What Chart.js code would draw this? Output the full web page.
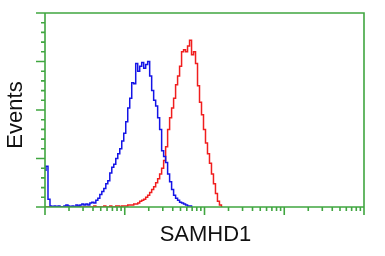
<!DOCTYPE html>
<html>
<head>
<meta charset="utf-8">
<script src="https://cdn.jsdelivr.net/npm/chart.js@4"></script>
<style>
  html, body { margin: 0; padding: 0; background: #fff; }
  #wrap { width: 385px; height: 256px; }
</style>
</head>
<body>
<div id="wrap"><canvas id="histogram"></canvas></div>
<script>
// histogram channels: 40 channels per decade, 4 decades on the x axis
const channelsPerDecade = 40;
const decades = 4;

// events per channel
const blueEvents = [38, 42, 8, 1, 0, 1, 0, 1, 0, 0, 1, 2, 1, 0, 1, 0,
    2, 1, 2, 3, 2, 3, 2, 4, 5, 4, 7, 9, 13, 16, 19, 24, 27, 35, 41, 44,
    50, 55, 60, 68, 76, 88, 102, 112, 128, 127, 148, 140, 145, 149, 143, 147, 150, 135,
    120, 110, 104, 92, 80, 58, 52, 46, 34, 26, 18, 12, 9, 7, 5, 4, 3, 2, 1, 1, 0];

const redEvents = [0, 0, 0, 0, 0, 0, 0, 0, 0, 0, 0, 0, 0, 0, 0, 0, 0, 0, 0, 0, 0, 0, 0, 0,
    0, 1, 0, 0, 0, 0, 1, 0, 0, 1, 0, 0, 1, 1, 0, 1, 1, 1, 2,
    2, 2, 3, 3, 4, 6, 7, 8, 10, 12, 15, 18, 21, 25, 29, 34, 40, 48, 62, 80,
    92, 102, 112, 126, 135, 145, 160, 162, 160, 166, 172, 157, 160, 148, 125, 108, 95, 80,
    66, 55, 45, 34, 24, 14, 6, 2, 0];

// y axis: 0..200, long ticks every 50, short every 10
const yMax = 200;
const yMajorStep = 50;
const yMinorStep = 10;
// log ticks inside each decade
const decadeTicks = [1, 2, 3, 4, 5, 6, 7, 8, 9];

const axisColor = '#40a640';
const xTitle = 'SAMHD1';
const yTitle = 'Events';

function toPoints(values) {
    return values.map((v, i) => ({ x: i, y: v }));
}

// draws the green frame, outward ticks and the two titles
const frame = {
    id: 'frame',
    afterDatasetsDraw(chart) {
        const { ctx, chartArea: a, scales: { x, y } } = chart;
        ctx.save();
        ctx.strokeStyle = axisColor;
        ctx.lineWidth = 1.6;
        ctx.beginPath();
        ctx.rect(a.left, a.top, a.right - a.left, a.bottom - a.top);

        for (let v = 0; v <= yMax; v += yMinorStep) {
            const py = y.getPixelForValue(v);
            const len = v % yMajorStep === 0 ? 9 : 4;
            ctx.moveTo(a.left - len, py);
            ctx.lineTo(a.left, py);
        }

        for (let d = 0; d < decades; d++) {
            decadeTicks.forEach(k => {
                const ch = channelsPerDecade * (d + Math.log10(k));
                const px = x.getPixelForValue(ch);
                const len = k === 1 ? 8 : 4;
                ctx.moveTo(px, a.bottom);
                ctx.lineTo(px, a.bottom + len);
            });
        }
        const pxEnd = x.getPixelForValue(channelsPerDecade * decades);
        ctx.moveTo(pxEnd, a.bottom);
        ctx.lineTo(pxEnd, a.bottom + 8);
        ctx.stroke();

        ctx.fillStyle = '#111';
        ctx.textAlign = 'center';
        ctx.textBaseline = 'middle';
        ctx.font = '22px "Liberation Sans", Arial, sans-serif';
        ctx.fillText(xTitle, (a.left + a.right) / 2 + 1, 235);

        ctx.translate(16, (a.top + a.bottom) / 2 + 5);
        ctx.rotate(-Math.PI / 2);
        ctx.font = '22px "Liberation Sans", Arial, sans-serif';
        ctx.fillText(yTitle, 0, 0);
        ctx.restore();
    }
};

document.addEventListener('DOMContentLoaded', () => {
    const ctx = document.getElementById('histogram').getContext('2d');
    new Chart(ctx, {
        type: 'line',
        data: {
            datasets: [{
                label: 'control',
                data: toPoints(blueEvents),
                borderColor: '#1414e6',
                borderWidth: 1.5,
                stepped: 'middle',
                pointRadius: 0,
                fill: false,
            }, {
                label: 'SAMHD1',
                data: toPoints(redEvents),
                borderColor: '#f01e1e',
                borderWidth: 1.5,
                stepped: 'middle',
                pointRadius: 0,
                fill: false,
            }]
        },
        options: {
            responsive: true,
            maintainAspectRatio: false,
            animation: false,
            layout: {
                padding: { left: 45, top: 13, right: 21, bottom: 49 }
            },
            scales: {
                x: {
                    type: 'linear',
                    min: 0,
                    max: channelsPerDecade * decades,
                    display: false,
                },
                y: {
                    min: 0,
                    max: yMax,
                    display: false,
                }
            },
            plugins: {
                legend: { display: false },
                tooltip: { enabled: false }
            }
        },
        plugins: [frame]
    });
});
</script>
</body>
</html>
